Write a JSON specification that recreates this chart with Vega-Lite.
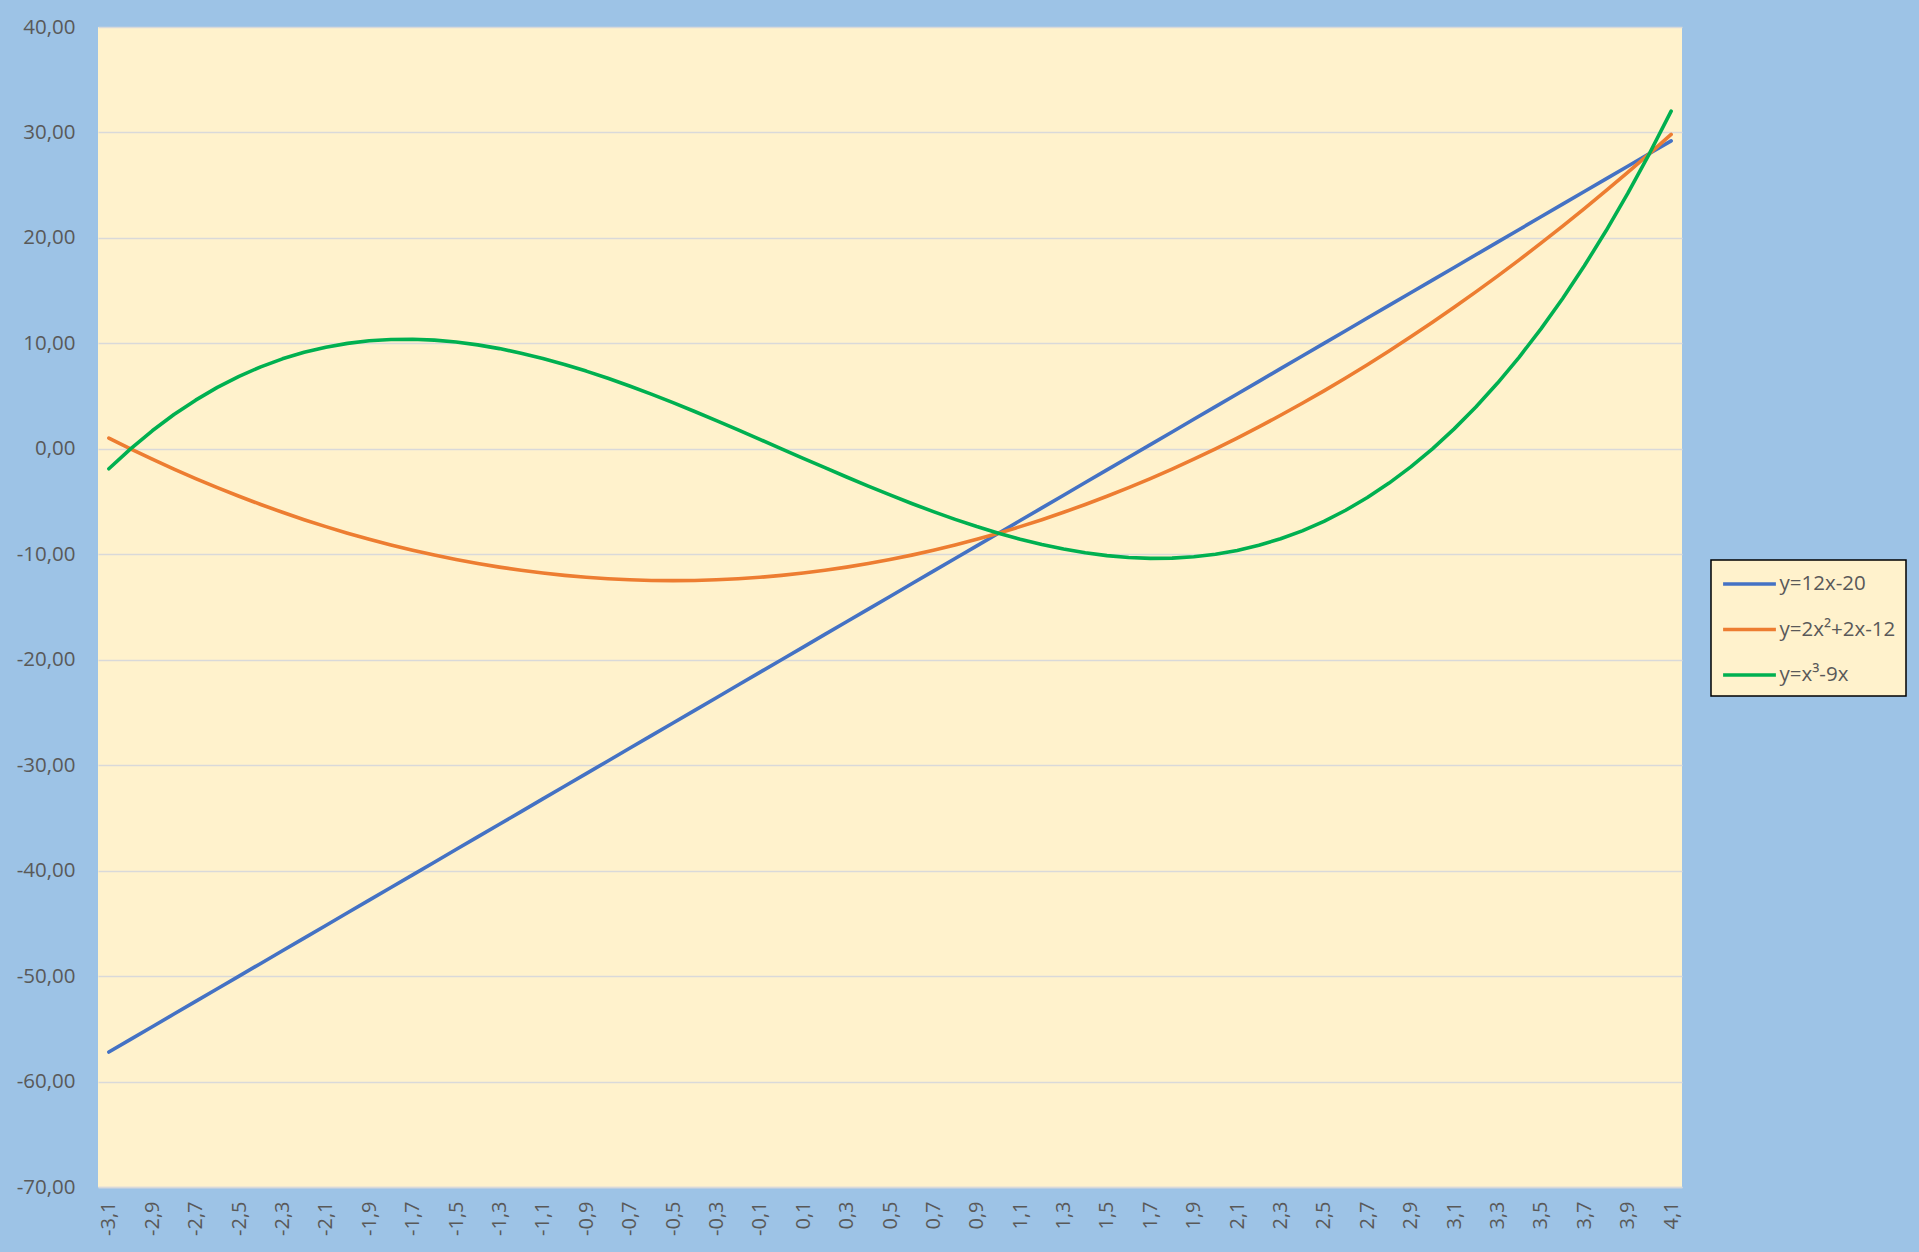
{
  "$schema": "https://vega.github.io/schema/vega-lite/v6.json",
  "width": 1584,
  "height": 1160,
  "autosize": {"type": "none"},
  "padding": {"left": 98, "top": 27, "right": 237, "bottom": 65},
  "background": "#9DC3E6",
  "data": {
    "values": [
      {"x": -3.1, "y=12x-20": -57.2, "y=2x²+2x-12": 1.02, "y=x³-9x": -1.891},
      {"x": -3.0, "y=12x-20": -56, "y=2x²+2x-12": 0, "y=x³-9x": 0},
      {"x": -2.9, "y=12x-20": -54.8, "y=2x²+2x-12": -0.98, "y=x³-9x": 1.711},
      {"x": -2.8, "y=12x-20": -53.6, "y=2x²+2x-12": -1.92, "y=x³-9x": 3.248},
      {"x": -2.7, "y=12x-20": -52.4, "y=2x²+2x-12": -2.82, "y=x³-9x": 4.617},
      {"x": -2.6, "y=12x-20": -51.2, "y=2x²+2x-12": -3.68, "y=x³-9x": 5.824},
      {"x": -2.5, "y=12x-20": -50, "y=2x²+2x-12": -4.5, "y=x³-9x": 6.875},
      {"x": -2.4, "y=12x-20": -48.8, "y=2x²+2x-12": -5.28, "y=x³-9x": 7.776},
      {"x": -2.3, "y=12x-20": -47.6, "y=2x²+2x-12": -6.02, "y=x³-9x": 8.533},
      {"x": -2.2, "y=12x-20": -46.4, "y=2x²+2x-12": -6.72, "y=x³-9x": 9.152},
      {"x": -2.1, "y=12x-20": -45.2, "y=2x²+2x-12": -7.38, "y=x³-9x": 9.639},
      {"x": -2.0, "y=12x-20": -44, "y=2x²+2x-12": -8, "y=x³-9x": 10},
      {"x": -1.9, "y=12x-20": -42.8, "y=2x²+2x-12": -8.58, "y=x³-9x": 10.241},
      {"x": -1.8, "y=12x-20": -41.6, "y=2x²+2x-12": -9.12, "y=x³-9x": 10.368},
      {"x": -1.7, "y=12x-20": -40.4, "y=2x²+2x-12": -9.62, "y=x³-9x": 10.387},
      {"x": -1.6, "y=12x-20": -39.2, "y=2x²+2x-12": -10.08, "y=x³-9x": 10.304},
      {"x": -1.5, "y=12x-20": -38, "y=2x²+2x-12": -10.5, "y=x³-9x": 10.125},
      {"x": -1.4, "y=12x-20": -36.8, "y=2x²+2x-12": -10.88, "y=x³-9x": 9.856},
      {"x": -1.3, "y=12x-20": -35.6, "y=2x²+2x-12": -11.22, "y=x³-9x": 9.503},
      {"x": -1.2, "y=12x-20": -34.4, "y=2x²+2x-12": -11.52, "y=x³-9x": 9.072},
      {"x": -1.1, "y=12x-20": -33.2, "y=2x²+2x-12": -11.78, "y=x³-9x": 8.569},
      {"x": -1.0, "y=12x-20": -32, "y=2x²+2x-12": -12, "y=x³-9x": 8},
      {"x": -0.9, "y=12x-20": -30.8, "y=2x²+2x-12": -12.18, "y=x³-9x": 7.371},
      {"x": -0.8, "y=12x-20": -29.6, "y=2x²+2x-12": -12.32, "y=x³-9x": 6.688},
      {"x": -0.7, "y=12x-20": -28.4, "y=2x²+2x-12": -12.42, "y=x³-9x": 5.957},
      {"x": -0.6, "y=12x-20": -27.2, "y=2x²+2x-12": -12.48, "y=x³-9x": 5.184},
      {"x": -0.5, "y=12x-20": -26, "y=2x²+2x-12": -12.5, "y=x³-9x": 4.375},
      {"x": -0.4, "y=12x-20": -24.8, "y=2x²+2x-12": -12.48, "y=x³-9x": 3.536},
      {"x": -0.3, "y=12x-20": -23.6, "y=2x²+2x-12": -12.42, "y=x³-9x": 2.673},
      {"x": -0.2, "y=12x-20": -22.4, "y=2x²+2x-12": -12.32, "y=x³-9x": 1.792},
      {"x": -0.1, "y=12x-20": -21.2, "y=2x²+2x-12": -12.18, "y=x³-9x": 0.899},
      {"x": 0.0, "y=12x-20": -20, "y=2x²+2x-12": -12, "y=x³-9x": 0},
      {"x": 0.1, "y=12x-20": -18.8, "y=2x²+2x-12": -11.78, "y=x³-9x": -0.899},
      {"x": 0.2, "y=12x-20": -17.6, "y=2x²+2x-12": -11.52, "y=x³-9x": -1.792},
      {"x": 0.3, "y=12x-20": -16.4, "y=2x²+2x-12": -11.22, "y=x³-9x": -2.673},
      {"x": 0.4, "y=12x-20": -15.2, "y=2x²+2x-12": -10.88, "y=x³-9x": -3.536},
      {"x": 0.5, "y=12x-20": -14, "y=2x²+2x-12": -10.5, "y=x³-9x": -4.375},
      {"x": 0.6, "y=12x-20": -12.8, "y=2x²+2x-12": -10.08, "y=x³-9x": -5.184},
      {"x": 0.7, "y=12x-20": -11.6, "y=2x²+2x-12": -9.62, "y=x³-9x": -5.957},
      {"x": 0.8, "y=12x-20": -10.4, "y=2x²+2x-12": -9.12, "y=x³-9x": -6.688},
      {"x": 0.9, "y=12x-20": -9.2, "y=2x²+2x-12": -8.58, "y=x³-9x": -7.371},
      {"x": 1.0, "y=12x-20": -8, "y=2x²+2x-12": -8, "y=x³-9x": -8},
      {"x": 1.1, "y=12x-20": -6.8, "y=2x²+2x-12": -7.38, "y=x³-9x": -8.569},
      {"x": 1.2, "y=12x-20": -5.6, "y=2x²+2x-12": -6.72, "y=x³-9x": -9.072},
      {"x": 1.3, "y=12x-20": -4.4, "y=2x²+2x-12": -6.02, "y=x³-9x": -9.503},
      {"x": 1.4, "y=12x-20": -3.2, "y=2x²+2x-12": -5.28, "y=x³-9x": -9.856},
      {"x": 1.5, "y=12x-20": -2, "y=2x²+2x-12": -4.5, "y=x³-9x": -10.125},
      {"x": 1.6, "y=12x-20": -0.8, "y=2x²+2x-12": -3.68, "y=x³-9x": -10.304},
      {"x": 1.7, "y=12x-20": 0.4, "y=2x²+2x-12": -2.82, "y=x³-9x": -10.387},
      {"x": 1.8, "y=12x-20": 1.6, "y=2x²+2x-12": -1.92, "y=x³-9x": -10.368},
      {"x": 1.9, "y=12x-20": 2.8, "y=2x²+2x-12": -0.98, "y=x³-9x": -10.241},
      {"x": 2.0, "y=12x-20": 4, "y=2x²+2x-12": 0, "y=x³-9x": -10},
      {"x": 2.1, "y=12x-20": 5.2, "y=2x²+2x-12": 1.02, "y=x³-9x": -9.639},
      {"x": 2.2, "y=12x-20": 6.4, "y=2x²+2x-12": 2.08, "y=x³-9x": -9.152},
      {"x": 2.3, "y=12x-20": 7.6, "y=2x²+2x-12": 3.18, "y=x³-9x": -8.533},
      {"x": 2.4, "y=12x-20": 8.8, "y=2x²+2x-12": 4.32, "y=x³-9x": -7.776},
      {"x": 2.5, "y=12x-20": 10, "y=2x²+2x-12": 5.5, "y=x³-9x": -6.875},
      {"x": 2.6, "y=12x-20": 11.2, "y=2x²+2x-12": 6.72, "y=x³-9x": -5.824},
      {"x": 2.7, "y=12x-20": 12.4, "y=2x²+2x-12": 7.98, "y=x³-9x": -4.617},
      {"x": 2.8, "y=12x-20": 13.6, "y=2x²+2x-12": 9.28, "y=x³-9x": -3.248},
      {"x": 2.9, "y=12x-20": 14.8, "y=2x²+2x-12": 10.62, "y=x³-9x": -1.711},
      {"x": 3.0, "y=12x-20": 16, "y=2x²+2x-12": 12, "y=x³-9x": 0},
      {"x": 3.1, "y=12x-20": 17.2, "y=2x²+2x-12": 13.42, "y=x³-9x": 1.891},
      {"x": 3.2, "y=12x-20": 18.4, "y=2x²+2x-12": 14.88, "y=x³-9x": 3.968},
      {"x": 3.3, "y=12x-20": 19.6, "y=2x²+2x-12": 16.38, "y=x³-9x": 6.237},
      {"x": 3.4, "y=12x-20": 20.8, "y=2x²+2x-12": 17.92, "y=x³-9x": 8.704},
      {"x": 3.5, "y=12x-20": 22, "y=2x²+2x-12": 19.5, "y=x³-9x": 11.375},
      {"x": 3.6, "y=12x-20": 23.2, "y=2x²+2x-12": 21.12, "y=x³-9x": 14.256},
      {"x": 3.7, "y=12x-20": 24.4, "y=2x²+2x-12": 22.78, "y=x³-9x": 17.353},
      {"x": 3.8, "y=12x-20": 25.6, "y=2x²+2x-12": 24.48, "y=x³-9x": 20.672},
      {"x": 3.9, "y=12x-20": 26.8, "y=2x²+2x-12": 26.22, "y=x³-9x": 24.219},
      {"x": 4.0, "y=12x-20": 28, "y=2x²+2x-12": 28, "y=x³-9x": 28},
      {"x": 4.1, "y=12x-20": 29.2, "y=2x²+2x-12": 29.82, "y=x³-9x": 32.021}
    ]
  },
  "transform": [
    {"fold": ["y=12x-20", "y=2x²+2x-12", "y=x³-9x"], "as": ["series", "value"]}
  ],
  "mark": {"type": "line", "strokeWidth": 3.6, "strokeCap": "round", "strokeJoin": "round"},
  "encoding": {
    "x": {
      "field": "x",
      "type": "quantitative",
      "scale": {"domain": [-3.15, 4.15], "nice": false, "zero": false},
      "axis": {
        "title": null,
        "values": [-3.1,-2.9,-2.7,-2.5,-2.3,-2.1,-1.9,-1.7,-1.5,-1.3,-1.1,-0.9,-0.7,-0.5,-0.3,-0.1,0.1,0.3,0.5,0.7,0.9,1.1,1.3,1.5,1.7,1.9,2.1,2.3,2.5,2.7,2.9,3.1,3.3,3.5,3.7,3.9,4.1],
        "format": ".1f",
        "labelAngle": -90,
        "labelPadding": 14,
        "ticks": false,
        "grid": false,
        "domainColor": "#d9d9d9",
        "domainWidth": 1.5,
        "labelFontSize": 20,
        "labelColor": "#595959",
        "labelFont": "Open Sans",
        "labelOverlap": false
      }
    },
    "y": {
      "field": "value",
      "type": "quantitative",
      "scale": {"domain": [-70, 40], "nice": false, "zero": false},
      "axis": {
        "title": null,
        "values": [-70,-60,-50,-40,-30,-20,-10,0,10,20,30,40],
        "format": ".2f",
        "ticks": false,
        "domain": false,
        "grid": true,
        "gridColor": "#d9d9d9",
        "gridWidth": 1.5,
        "labelPadding": 23,
        "labelFontSize": 20.5,
        "labelColor": "#595959",
        "labelFont": "Open Sans",
        "labelOverlap": false
      }
    },
    "color": {
      "field": "series",
      "type": "nominal",
      "scale": {
        "domain": ["y=12x-20", "y=2x²+2x-12", "y=x³-9x"],
        "range": ["#4472C4", "#ED7D31", "#00B050"]
      },
      "legend": {
        "title": null,
        "orient": "none",
        "legendX": 1613,
        "legendY": 533,
        "padding": 10,
        "strokeColor": "#000000",
        "fillColor": "#FFF2CC",
        "symbolType": "M-2.2,0H2.2",
        "symbolSize": 576,
        "symbolStrokeWidth": 3.6,
        "symbolOffset": 14.5,
        "labelOffset": 16,
        "rowPadding": 20.5,
        "labelFontSize": 20.5,
        "labelColor": "#595959",
        "labelFont": "Open Sans",
        "encode": {"legend": {"update": {"strokeWidth": {"value": 1.5}}}}
      }
    }
  },
  "config": {
    "locale": {"number": {"decimal": ",", "thousands": ".", "grouping": [3], "currency": ["", " €"], "minus": "-"}},
    "view": {"fill": "#FFF2CC", "stroke": null}
  }
}
